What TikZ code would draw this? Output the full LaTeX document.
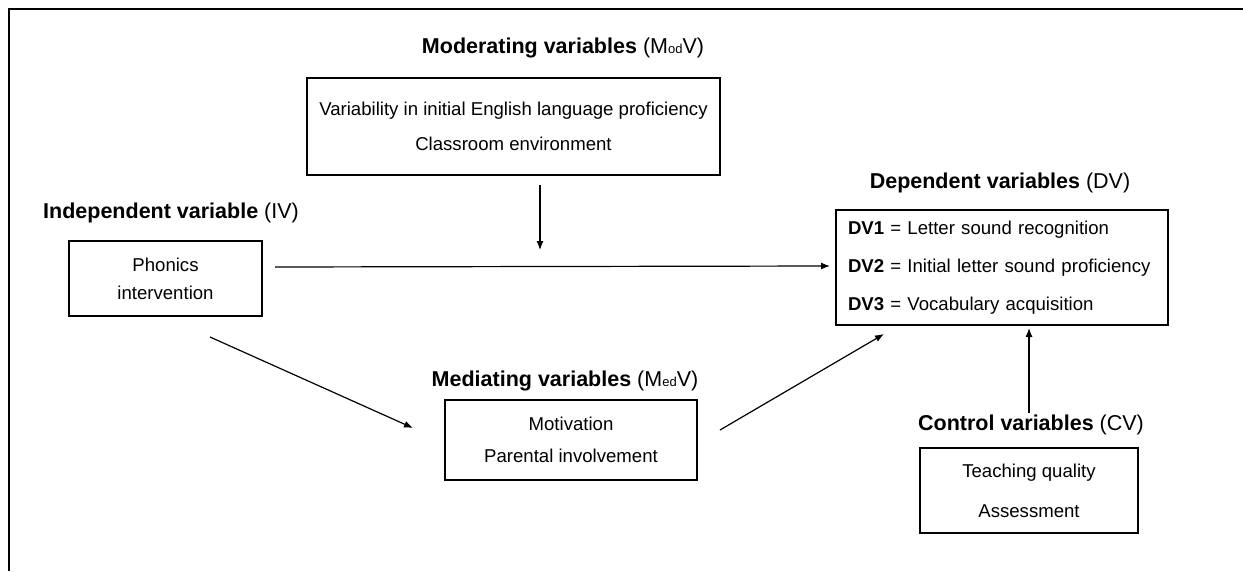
\documentclass[tikz,border=0pt]{standalone}
\usepackage{fontspec}
\setmainfont{Liberation Sans}
\usetikzlibrary{arrows.meta,positioning}
\newcommand{\subtxt}[1]{{\fontsize{13}{13}\selectfont #1}}

\begin{document}
\begin{tikzpicture}[x=1pt,y=-1pt,
  every node/.style={font=\fontsize{18.6}{22}\selectfont},
  varbox/.style={draw,line width=1.3pt,inner sep=0pt,align=center},
  vartitle/.style={inner sep=0pt,font=\fontsize{21.5}{24}\selectfont},
  arr/.style={line width=1.2pt,-{Latex[length=9pt,width=7pt]}}]
\useasboundingbox (0,0) rectangle (1243,571);
\draw[line width=1.8pt] (1243,9) -- (9,9) -- (9,571);
% moderating
\node[vartitle] (modt) at (563,48) {\textbf{Moderating variables} (M\subtxt{od}V)};
\node[varbox,minimum width=413pt,minimum height=97pt] (modv) at (513.5,126.5)
  {Variability in initial English language proficiency\\[13pt] Classroom environment};
% independent
\node[vartitle,anchor=west] (ivt) at (43,213) {\textbf{Independent variable} (IV)};
\node[varbox,minimum width=193pt,minimum height=75pt] (iv) at (165.5,278.5)
  {Phonics\\[6pt] intervention};
% dependent
\node[vartitle] (dvt) at (1000,183) {\textbf{Dependent variables} (DV)};
\node[varbox,align=left,text width=308pt,minimum height=115pt,inner xsep=12pt] (dv) at (1002,267.5)
  {\textbf{DV1} = Letter sound recognition\\[16pt] \textbf{DV2} = Initial letter sound proficiency\\[16pt] \textbf{DV3} = Vocabulary acquisition};
% mediating
\node[vartitle] (medt) at (565,381) {\textbf{Mediating variables} (M\subtxt{ed}V)};
\node[varbox,minimum width=252pt,minimum height=80pt] (med) at (571,440)
  {Motivation\\[10pt] Parental involvement};
% control
\node[vartitle] (cvt) at (1031,425) {\textbf{Control variables} (CV)};
\node[varbox,minimum width=218pt,minimum height=85pt] (cv) at (1029,490.5)
  {Teaching quality\\[18pt] Assessment};

\coordinate (moda) at (540,185);
\coordinate (modb) at (540,250);
\coordinate (iva) at (275,267);
\coordinate (dva) at (830,266);
\coordinate (ivb) at (210,337);
\coordinate (meda) at (413,428);
\coordinate (medb) at (720,430);
\coordinate (dvb) at (884,334);
\coordinate (cva) at (1029,413);
\coordinate (dvc) at (1029,328);
\draw[arr] (moda) -- (modb);
\draw[arr] (iva) -- (dva);
\draw[arr] (ivb) -- (meda);
\draw[arr] (medb) -- (dvb);
\draw[arr] (cva) -- (dvc);
\end{tikzpicture}
\end{document}
